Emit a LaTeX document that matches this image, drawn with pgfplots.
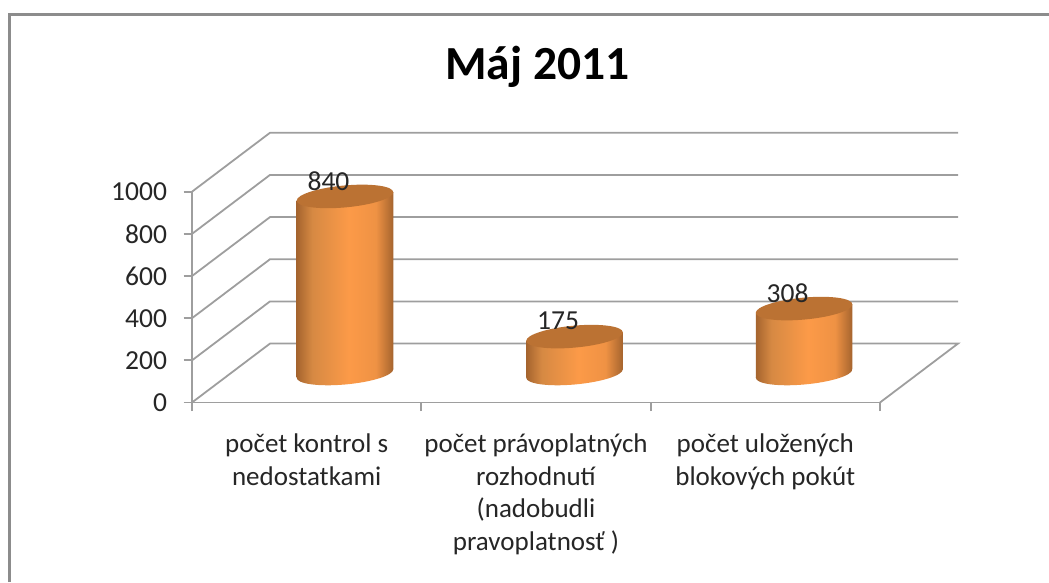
\documentclass[border=0pt]{standalone}
\usepackage{fontspec}
\setmainfont{Carlito}
\usepackage{pgfplots}
\pgfplotsset{compat=1.18}
\definecolor{gl}{HTML}{9E9E9E}
\definecolor{fr}{HTML}{8C8C8C}
\definecolor{tx}{HTML}{262626}
\definecolor{cE}{HTML}{A5642E}
\definecolor{cA}{HTML}{D68943}
\definecolor{cB}{HTML}{FC9A48}
\definecolor{cC}{HTML}{EF9244}
\definecolor{topc}{HTML}{BB7233}
\pgfdeclarehorizontalshading{cyl}{100bp}{color(0bp)=(cE); color(25bp)=(cE); color(33bp)=(cA); color(52bp)=(cB); color(66bp)=(cC); color(75bp)=(cE); color(100bp)=(cE)}
\pgfdeclareplotmark{cyltop}{%
  \pgfpathellipse{\pgfpointorigin}{\pgfqpoint{48.3pt}{4.2pt}}{\pgfqpoint{0pt}{11pt}}%
  \pgfsetfillcolor{topc}\pgfusepath{fill}}
\pgfdeclareplotmark{cylbot}{%
  \pgfpathellipse{\pgfpointorigin}{\pgfqpoint{48.3pt}{4.2pt}}{\pgfqpoint{0pt}{11pt}}%
  \pgfshadepath{cyl}{0}\pgfusepath{discard}}
\begin{document}
\begin{tikzpicture}[x=1pt,y=1pt]
\useasboundingbox (0,0) rectangle (1049,582);
\draw[fr,line width=2.4pt] (9.5,0) -- (9.5,567.5) -- (1049,567.5);
\node[anchor=base,font=\fontsize{47.5}{50}\selectfont\bfseries,text=black] at (537.5,502) {Máj 2011};
\begin{axis}[
  at={(192pt,179.5pt)}, anchor=origin,
  scale only axis, width=688pt, height=210.8pt,
  xmin=0, xmax=3, ymin=0, ymax=1000, clip=false,
  axis y line*=left, axis x line*=bottom,
  axis line style={draw=gl,line width=1.8pt,-},
  xtick={0,1,2,3}, xticklabels={},
  ytick={0,200,400,600,800,1000},
  tick style={draw=gl,line width=1.8pt},
  tick align=outside, major tick length=8.5pt,
  /pgf/number format/assume math mode=true,
  /pgf/number format/1000 sep={},
  tick label style={font=\fontsize{27.5}{32.5}\selectfont,text=tx},
  y tick label style={xshift=-13pt},
  extra x ticks={0.5,1.5,2.5},
  extra x tick labels={{počet kontrol s\\nedostatkami},{počet právoplatných\\rozhodnutí\\(nadobudli\\pravoplatnosť )},{počet uložených\\blokových pokút}},
  extra x tick style={major tick length=0pt,tick style={draw=none},
    tick label style={font=\fontsize{27}{32.5}\selectfont,align=center,anchor=north,yshift=-28pt}},
  every axis plot/.append style={forget plot},
]
% walls and floor
\addplot[gl,line width=1.8pt,mark=none] coordinates {(0,0)(0.3401,279.6)(3.3401,279.6)(3,0)};
\addplot[gl,line width=1.8pt,mark=none] coordinates {(0,200)(0.3401,479.6)(3.3401,479.6)};
\addplot[gl,line width=1.8pt,mark=none] coordinates {(0,400)(0.3401,679.6)(3.3401,679.6)};
\addplot[gl,line width=1.8pt,mark=none] coordinates {(0,600)(0.3401,879.6)(3.3401,879.6)};
\addplot[gl,line width=1.8pt,mark=none] coordinates {(0,800)(0.3401,1079.6)(3.3401,1079.6)};
\addplot[gl,line width=1.8pt,mark=none] coordinates {(0,1000)(0.3401,1279.6)(3.3401,1279.6)};
% cylinder bottoms
\addplot[only marks,mark=cylbot,yshift=29pt] coordinates {(0.667,0)(1.668,0)(2.669,0)};
% cylinder bodies
\addplot[ybar,bar width=96.6pt,bar shift=0pt,draw=none,shade,shading=cyl,yshift=15.7pt,yslant=0.087] coordinates {(0.667,840)};
\addplot[ybar,bar width=96.6pt,bar shift=0pt,draw=none,shade,shading=cyl,yshift=-4.3pt,yslant=0.087] coordinates {(1.668,175)};
\addplot[ybar,bar width=96.6pt,bar shift=0pt,draw=none,shade,shading=cyl,yshift=-24.2pt,yslant=0.087] coordinates {(2.669,308)};
% cylinder tops and value labels
\addplot[only marks,mark=cyltop,yshift=29pt,
  nodes near coords,
  every node near coord/.style={anchor=center,xshift=-16.5pt,yshift=15.5pt,
    font=\fontsize{27.5}{32}\selectfont,text=tx}]
  coordinates {(0.667,840)(1.668,175)(2.669,308)};
\end{axis}
\end{tikzpicture}
\end{document}
